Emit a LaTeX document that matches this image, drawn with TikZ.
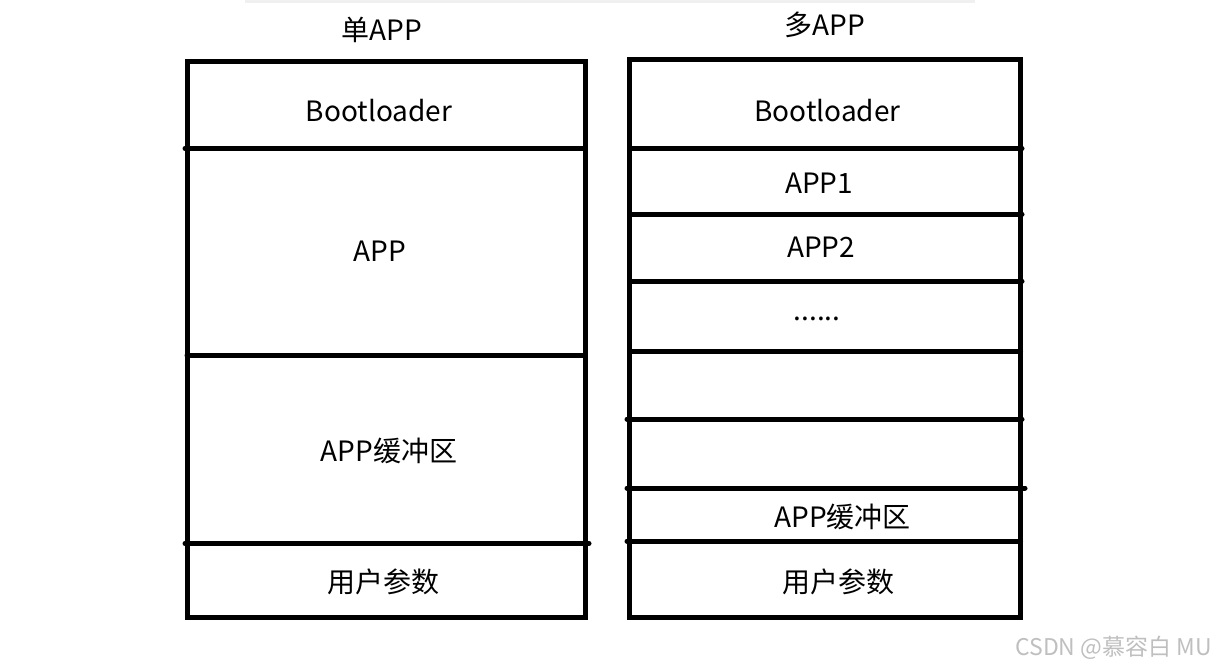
\documentclass[tikz,border=0pt]{standalone}
\usepackage{fontspec}
\setmainfont{Noto Sans CJK SC}
\begin{document}
\begin{tikzpicture}[x=1pt,y=-1pt,
  frame/.style={line width=5pt},
  divider/.style={line width=5pt, line cap=round},
  lbl/.style={font=\fontsize{28}{32}\selectfont, inner sep=0pt, anchor=base},
  wmark/.style={font=\fontsize{23}{26}\selectfont, inner sep=0pt, anchor=base east, text=black!25}]
\useasboundingbox (0,0) rectangle (1216,667);
% faint top shadow
\fill[black!6] (245,0) rectangle (975,2.5);
% left stack
\coordinate (LTL) at (187,61.5);
\coordinate (LBR) at (585,617);
\draw[frame] (LTL) rectangle (LBR);
\draw[divider] (185,148.5) -- (585,148.5);
\draw[divider] (187,355) -- (585,355);
\draw[divider] (185,543.5) -- (589,543.5);
% right stack
\coordinate (RTL) at (629.5,59.5);
\coordinate (RBR) at (1020.5,617);
\draw[frame] (RTL) rectangle (RBR);
\draw[divider] (629.5,148.5) -- (1022,148.5);
\draw[divider] (629.5,214) -- (1022,214);
\draw[divider] (629.5,281) -- (1022,281);
\draw[divider] (629.5,351) -- (1020.5,351);
\draw[divider] (627,419) -- (1022,419);
\draw[divider] (627,488) -- (1025,488);
\draw[divider] (627,541) -- (1020.5,541);
% titles
\node[lbl] (t1) at (382,40) {单APP};
\node[lbl] (t2) at (825,35) {多APP};
% left labels
\node[lbl] (lb) at (379,121) {Bootloader};
\node[lbl] (la) at (380,261) {APP};
\node[lbl] (lc) at (389,461) {APP缓冲区};
\node[lbl] (lu) at (383.5,592) {用户参数};
% right labels
\node[lbl] (rb) at (827.5,121) {Bootloader};
\node[lbl] (r1) at (819,193) {APP1};
\node[lbl] (r2) at (821,257) {APP2};
\node[lbl] (rd) at (817,320) {......};
\node[lbl] (rc) at (842.5,527) {APP缓冲区};
\node[lbl] (ru) at (838,592) {用户参数};
% watermark
\node[wmark] (wm) at (1212,655) {CSDN @慕容白 MU};
\end{tikzpicture}
\end{document}
